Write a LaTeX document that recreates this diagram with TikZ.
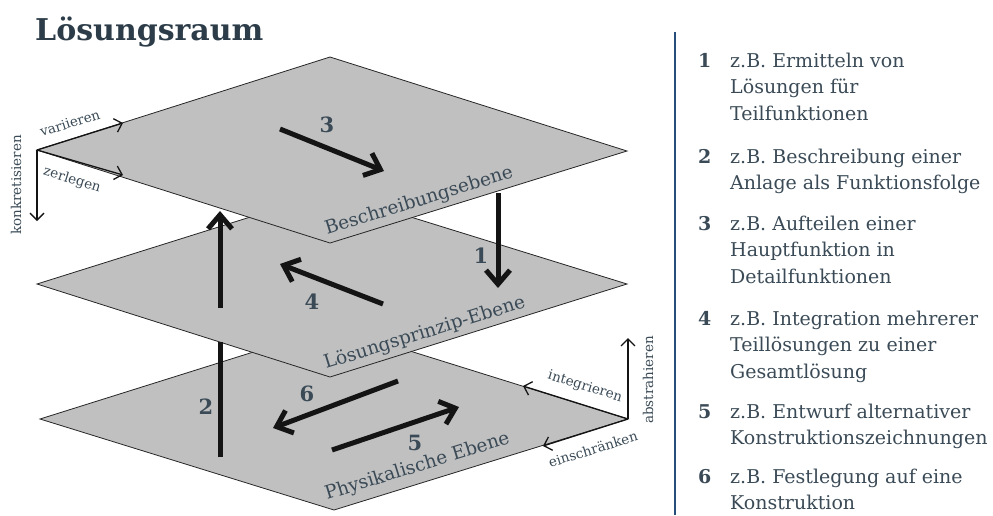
\documentclass[tikz,border=0pt]{standalone}
\usepackage{fontspec}
\setmainfont{DejaVu Serif}
\usetikzlibrary{arrows.meta}
\definecolor{planegray}{RGB}{192,192,192}
\definecolor{slate}{RGB}{58,74,86}
\definecolor{titleslate}{RGB}{44,60,72}
\definecolor{rulenavy}{RGB}{38,78,122}
\begin{document}
\begin{tikzpicture}[x=1pt,y=-1pt,
  plane/.style={fill=planegray, draw=black!85, line width=0.8pt},
  flow/.style={draw=black!92, line width=5pt, -{Straight Barb[length=14pt,width=24pt]}},
  flowline/.style={draw=black!92, line width=5pt},
  axis/.style={draw=black!92, line width=1.3pt, -{Straight Barb[length=7pt,width=14pt]}},
  planelabel/.style={text=slate, font=\fontsize{18.5}{18.5}\selectfont, anchor=base west, rotate=17.2, inner sep=0pt},
  numlabel/.style={text=slate, font=\bfseries\fontsize{21}{21}\selectfont, inner sep=0pt},
  axislabel/.style={text=slate, font=\fontsize{13.5}{13.5}\selectfont, inner sep=0pt},
  legnum/.style={text=slate, font=\bfseries\fontsize{19}{26.5}\selectfont, anchor=base west, inner sep=0pt},
  legtext/.style={text=slate, font=\fontsize{19}{26.5}\selectfont, anchor=base west, align=left, inner sep=0pt}
]
\useasboundingbox (0,0) rectangle (993,515);

% title
\node[text=titleslate, font=\bfseries\fontsize{30}{30}\selectfont, anchor=base west, inner sep=0pt] (title) at (35,40) {Lösungsraum};

% the three levels, drawn from bottom to top
\path[plane] (40,419) -- (333,327) -- (628,419) -- (334,510) -- cycle;
\path[plane] (37,284) -- (330,192) -- (627,284) -- (330,377) -- cycle;
\path[plane] (37,150) -- (330,57) -- (627,151) -- (330,243) -- cycle;

\node[planelabel] (lvtop) at (327,235) {Beschreibungsebene};
\node[planelabel] (lvmid) at (326,369) {Lösungsprinzip-Ebene};
\node[planelabel] (lvbot) at (327,500) {Physikalische Ebene};

% transitions between and within the levels
\draw[flow] (280,129) -- (384,171);
\draw[flow] (498,193) -- (498,288);
\draw[flowline] (220,457) -- (220,342);
\draw[flow] (220,308) -- (220,211);
\draw[flow] (383,304) -- (280,264);
\draw[flow] (398,381) -- (273,428);
\draw[flow] (332,450) -- (459,407);

\node[numlabel] (n3) at (327,125) {3};
\node[numlabel] (n1) at (481,256) {1};
\node[numlabel] (n2) at (206,407) {2};
\node[numlabel] (n4) at (312,302) {4};
\node[numlabel] (n6) at (307,394) {6};
\node[numlabel] (n5) at (415,443) {5};

% direction key, upper left
\coordinate (o1) at (37,150);
\draw[axis] (o1) -- (123,123);
\draw[axis] (o1) -- (123,175);
\draw[axis] (o1) -- (37,221);
\node[axislabel, rotate=17.2] (lvar) at (70,123) {variieren};
\node[axislabel, rotate=-17.2] (lzer) at (72,180) {zerlegen};
\node[axislabel, rotate=90] (lkon) at (16,185) {konkretisieren};

% direction key, lower right
\coordinate (o2) at (628,419);
\draw[axis] (o2) -- (628,338);
\draw[axis] (o2) -- (523,386);
\draw[axis] (o2) -- (543,446);
\node[axislabel, rotate=90] (labs) at (648,380) {abstrahieren};
\node[axislabel, rotate=-17.2] (lint) at (585,387) {integrieren};
\node[axislabel, rotate=17.2] (lein) at (593,449) {einschränken};

% legend (a multi-line node sits on the baseline of its last line)
\draw[rulenavy, line width=1.5pt] (675,32) -- (675,515);

\node[legnum] (k1) at (698,67) {1};
\node[legtext] (e1) at (730,120) {z.B. Ermitteln von\\Lösungen für\\Teilfunktionen};
\node[legnum] (k2) at (698,163) {2};
\node[legtext] (e2) at (730,189.5) {z.B. Beschreibung einer\\Anlage als Funktionsfolge};
\node[legnum] (k3) at (698,230) {3};
\node[legtext] (e3) at (730,283) {z.B. Aufteilen einer\\Hauptfunktion in\\Detailfunktionen};
\node[legnum] (k4) at (698,325) {4};
\node[legtext] (e4) at (730,378) {z.B. Integration mehrerer\\Teillösungen zu einer\\Gesamtlösung};
\node[legnum] (k5) at (698,418) {5};
\node[legtext] (e5) at (730,444.5) {z.B. Entwurf alternativer\\Konstruktionszeichnungen};
\node[legnum] (k6) at (698,483) {6};
\node[legtext] (e6) at (730,509.5) {z.B. Festlegung auf eine\\Konstruktion};
\end{tikzpicture}
\end{document}
